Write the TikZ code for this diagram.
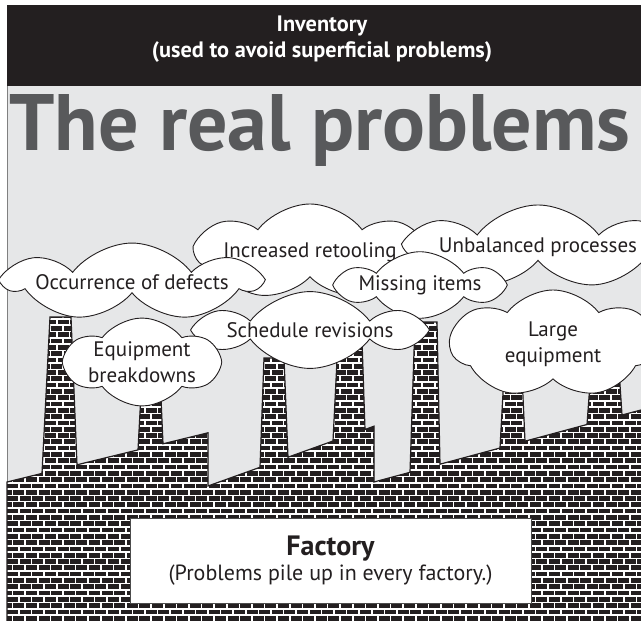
\documentclass[tikz,border=0pt]{standalone}
\usepackage{fontspec}
\setmainfont{PT Sans}
\usetikzlibrary{shapes.symbols}
\definecolor{bandblack}{HTML}{231F20}
\definecolor{skygray}{HTML}{E6E7E8}
\definecolor{titlegray}{HTML}{58595B}
% outline of the factory: sawtooth roof with seven chimneys
\newcommand{\factorywall}{(7,621) -- (7,482) -- (42,473.4) -- (50,317) -- (71,317) -- (77,464.8)
  -- (138,449.9) -- (142,375) -- (160,375) -- (163,443.8) -- (208,432.8) -- (208,486)
  -- (260,467.3) -- (264,358) -- (284,358) -- (288,457.2) -- (333,441) -- (338,340)
  -- (362,340) -- (365,429.5) -- (374,426.2) -- (374,482) -- (410,472.3) -- (415,322)
  -- (437,322) -- (440,464.2) -- (500,448) -- (504,375) -- (522,375) -- (525,441.2)
  -- (587,424.5) -- (591,370) -- (619,370) -- (622,415) -- (660,405) -- (660,630)
  -- (7,630) -- cycle}
\tikzset{
   puffy/.style={
     cloud, cloud ignores aspect, cloud puff arc=105, draw=bandblack, fill=white,
     line width=0.9pt, align=center, text=bandblack, inner sep=0pt,
     font=\fontsize{21}{26}\selectfont
   },
   mortar/.style={white, line width=1.6pt},
   wallline/.style={draw=bandblack, line width=1.2pt}
}
\begin{document}
\begin{tikzpicture}[x=1pt, y=-1pt]
  \useasboundingbox (0,0) rectangle (641,621);
  \clip (0,0) rectangle (641,621);
  % sky and header band
  \fill[skygray] (7,86) rectangle (641,621);
  \fill[bandblack] (7,5) rectangle (641,86);
  \draw[gray, line width=0.8pt] (7.4,86) -- (7.4,621);
  \node[text=white, align=center, font=\bfseries\fontsize{22.3}{26}\selectfont] (inventory)
    at (322,39) {Inventory\\(used to avoid superficial problems)};
  \node[text=titlegray, inner sep=0pt, font=\bfseries\fontsize{80}{80}\selectfont] (realproblems)
    at (320,130) {The real problems};

  % brick wall
  \fill[bandblack] \factorywall;
  \begin{scope}
    \clip \factorywall;
    \foreach \r in {0,...,52} {
      \pgfmathsetmacro{\yy}{300+6.3*\r}
      \pgfmathsetmacro{\off}{mod(\r,2)*6.3}
      \draw[mortar] (0,\yy) -- (660,\yy);
      \draw[mortar] \foreach \c in {0,...,52} {({\off+12.6*\c},\yy) -- ++(0,6.3)};
    }
  \end{scope}
  \draw[wallline] \factorywall;

  % the problems hanging over the factory
  \node[puffy, cloud puffs=7, minimum width=225pt, minimum height=96pt] (retooling)
    at (310,252) {Increased retooling};
  \node[puffy, cloud puffs=7, minimum width=250pt, minimum height=84pt] (unbalanced)
    at (538,247) {Unbalanced processes};
  \node[puffy, cloud puffs=7, minimum width=248pt, minimum height=74pt] (defects)
    at (132,282) {Occurrence of defects};
  \node[puffy, cloud puffs=6, minimum width=158pt, minimum height=64pt] (missing)
    at (420,285) {Missing items};
  \node[puffy, cloud puffs=6, minimum width=212pt, minimum height=66pt] (schedule)
    at (310,330) {Schedule revisions};
  \node[puffy, cloud puffs=6, minimum width=152pt, minimum height=84pt] (breakdowns)
    at (142,362) {Equipment\\breakdowns};
  \node[puffy, cloud puffs=7, minimum width=205pt, minimum height=108pt] (largeequip)
    at (553,344) {Large\\equipment};

  % sign on the wall
  \node[draw=black!70, fill=white, line width=0.8pt, minimum width=401pt, minimum height=85pt,
    align=center, inner sep=0pt, text=bandblack, font=\fontsize{22}{25}\selectfont] (factory)
    at (330.5,560.5) {{\bfseries\fontsize{28}{25}\selectfont Factory}\\(Problems pile up in every factory.)};
\end{tikzpicture}
\end{document}
